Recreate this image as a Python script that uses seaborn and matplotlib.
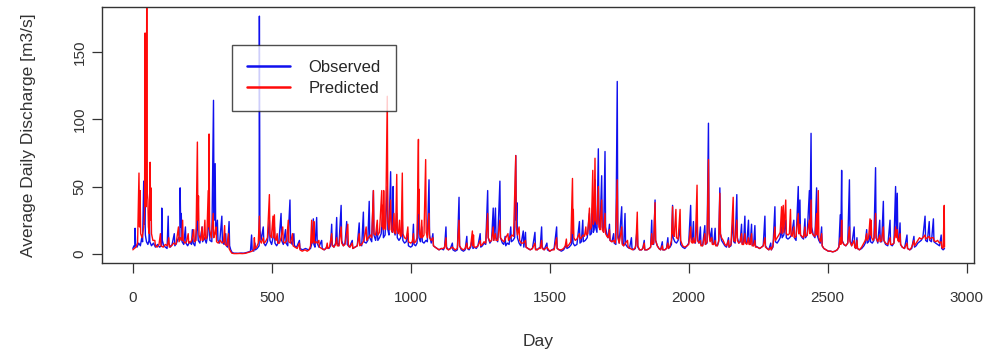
import matplotlib
matplotlib.use("Agg")
import matplotlib.pyplot as plt
import pandas as pd
import seaborn as sns

# ---- Observed daily discharge (day, m3/s) ----
obs_y1 = [(1,4),(5,6),(8,5),(9,19),(11,7),(16,5),(22,8),(28,6),(33,12),(36,9),(40,54),(42,22),(44,35),(46,14),(50,9),(55,7),(59,10),(60,30),(62,9),(68,6),(75,8),(82,5),(90,7),(97,5),(104,6),(105,34),(107,10),(112,6),(118,5),(124,4),(128,28),(130,8),(136,5),(142,7),(150,15),(152,6),(158,8),(165,12),(170,10),(171,49),(173,20),(175,30),(178,9),(184,7),(190,20),(192,8),(198,6),(205,9),(212,7),(215,18),(218,8),(224,6),(233,25),(236,10),(242,8),(250,20),(252,9),(258,12),(265,8),(270,14),(275,30),(278,10),(285,9),(291,114),(293,25),(297,67),(299,15),(305,25),(307,10),(313,8),(321,28),(323,9),(329,7),(335,15),(337,6),(342,5),(347,24),(349,6),(353,3),(358,1),(365,0.5)]
obs_y2 = [(372,0.5),(380,0.4),(390,0.6),(400,0.5),(410,1.0),(418,1.5),(424,2),(428,14),(430,3),(436,2),(440,8),(442,3),(448,4),(455,6),(456,176.5),(458,18),(462,10),(470,20),(472,8),(478,6),(485,9),(492,25),(494,10),(500,7),(505,12),(510,20),(512,8),(518,6),(526,9),(534,30),(536,10),(542,7),(550,18),(552,8),(558,6),(566,40),(568,10),(574,7),(580,15),(582,6),(590,5),(600,10),(602,4),(612,3),(622,4),(632,3),(640,4),(645,8),(650,26),(652,7),(656,5),(662,27),(664,8),(670,5),(680,10),(682,4),(690,3),(698,5),(706,4),(712,6),(716,22),(718,7),(724,5),(730,8)]
obs_y3 = [(734,27),(736,8),(742,6),(750,36),(752,10),(758,6),(764,8),(770,24),(772,7),(780,5),(790,10),(792,4),(800,5),(808,6),(815,23),(817,8),(824,6),(830,31),(832,9),(840,8),(846,10),(851,39),(853,12),(860,9),(866,47),(868,14),(874,10),(880,20),(882,10),(888,12),(894,15),(900,30),(902,12),(908,14),(916,50),(918,18),(922,14),(928,61),(930,25),(934,16),(937,50),(939,18),(944,14),(950,30),(952,12),(958,10),(964,12),(970,25),(972,10),(978,8),(984,9),(990,15),(992,6),(1000,5),(1006,6),(1010,22),(1012,7),(1018,6),(1023,8),(1028,40),(1030,12),(1035,9),(1040,20),(1042,9),(1048,8),(1055,10),(1060,9),(1066,55),(1068,14),(1074,8),(1080,15),(1082,6),(1088,5),(1095,4)]
obs_y4 = [(1102,3),(1110,4),(1118,3),(1122,5),(1127,20),(1129,5),(1136,3),(1143,4),(1150,8),(1152,3),(1160,2),(1168,3),(1174,42),(1176,6),(1182,3),(1190,2),(1196,3),(1202,13),(1204,4),(1210,3),(1216,5),(1222,12),(1224,4),(1230,5),(1236,4),(1242,6),(1250,15),(1252,5),(1258,6),(1264,8),(1270,7),(1277,47),(1279,12),(1285,8),(1291,10),(1297,34),(1299,10),(1305,34),(1307,12),(1313,9),(1321,54),(1323,12),(1330,8),(1335,7),(1340,13),(1342,6),(1348,8),(1354,7),(1360,20),(1362,9),(1368,10),(1374,12),(1378,73),(1380,25),(1382,38),(1384,12),(1390,8),(1396,6),(1405,17),(1407,5),(1413,16),(1415,5),(1422,4),(1430,3),(1438,4),(1447,16),(1449,4),(1455,3),(1460,4)]
obs_y5 = [(1466,5),(1471,20),(1473,5),(1480,3),(1490,8),(1492,3),(1500,2),(1508,3),(1516,4),(1525,20),(1527,4),(1534,3),(1542,2),(1550,3),(1556,5),(1560,8),(1562,4),(1570,5),(1578,7),(1582,25),(1584,8),(1590,6),(1598,7),(1607,24),(1609,8),(1614,9),(1619,25),(1621,9),(1628,10),(1635,12),(1643,30),(1645,14),(1650,15),(1655,40),(1657,16),(1660,18),(1663,55),(1665,20),(1670,16),(1675,78),(1677,25),(1681,18),(1687,58),(1689,20),(1694,16),(1699,76),(1701,20),(1706,14),(1710,12),(1715,22),(1717,10),(1724,9),(1730,15),(1732,8),(1738,7),(1743,128),(1745,15),(1750,8),(1759,35),(1761,8),(1766,6),(1771,30),(1773,7),(1780,5),(1787,4),(1794,12),(1796,4),(1802,3),(1808,4),(1815,20),(1817,5),(1823,3)]
obs_y6 = [(1830,3),(1835,4),(1840,10),(1842,3),(1850,3),(1858,4),(1863,5),(1867,25),(1869,8),(1874,7),(1879,40),(1881,10),(1887,6),(1893,4),(1899,3),(1905,9),(1907,3),(1914,3),(1920,4),(1925,12),(1927,4),(1933,5),(1938,7),(1942,36),(1944,12),(1950,9),(1956,8),(1962,10),(1969,20),(1971,7),(1978,5),(1986,4),(1994,6),(2000,8),(2007,36),(2009,12),(2013,10),(2017,24),(2019,9),(2024,8),(2030,30),(2032,10),(2037,8),(2042,20),(2044,7),(2050,6),(2058,21),(2060,7),(2066,8),(2071,97),(2073,20),(2077,10),(2083,19),(2085,8),(2090,7),(2095,19),(2097,7),(2103,6),(2108,9),(2112,49),(2114,15),(2118,10),(2124,8),(2130,6),(2136,5),(2143,12),(2145,5),(2152,6),(2160,25),(2162,9),(2167,8),(2173,44),(2175,12),(2180,8),(2185,9),(2190,22)]
obs_y7 = [(2192,8),(2197,7),(2202,28),(2204,9),(2209,8),(2215,25),(2217,8),(2221,7),(2226,22),(2228,7),(2233,6),(2238,21),(2240,6),(2247,5),(2255,4),(2262,5),(2268,6),(2274,28),(2276,6),(2282,4),(2288,3),(2295,8),(2297,3),(2303,5),(2310,35),(2312,9),(2318,8),(2324,10),(2329,12),(2334,20),(2336,12),(2342,14),(2349,25),(2351,12),(2357,11),(2363,12),(2370,14),(2378,25),(2380,12),(2386,10),(2394,50),(2396,15),(2400,40),(2402,14),(2408,12),(2413,11),(2418,26),(2420,12),(2426,14),(2434,47),(2436,18),(2440,89.5),(2442,20),(2448,14),(2454,12),(2460,49),(2462,14),(2468,10),(2473,8),(2478,20),(2480,6),(2486,4),(2494,3),(2502,2),(2510,2),(2518,1.5),(2526,2),(2534,3),(2540,5),(2545,29),(2547,8),(2550,62),(2552,10)]
obs_y8 = [(2558,7),(2565,6),(2572,8),(2578,55),(2580,10),(2586,6),(2595,20),(2597,5),(2601,4),(2605,12),(2607,4),(2614,3),(2622,4),(2630,6),(2635,8),(2640,18),(2642,8),(2647,9),(2652,15),(2654,9),(2660,8),(2666,10),(2672,64),(2674,12),(2680,8),(2687,25),(2689,9),(2694,9),(2700,39),(2702,10),(2708,7),(2716,6),(2724,25),(2726,7),(2732,6),(2738,8),(2744,50),(2746,14),(2750,45),(2752,12),(2756,9),(2760,23),(2762,7),(2768,5),(2776,4),(2785,14),(2787,4),(2795,3),(2802,4),(2810,13),(2812,5),(2818,6),(2824,8),(2830,9),(2836,10),(2842,12),(2850,28),(2852,10),(2858,9),(2865,24),(2867,10),(2873,9),(2880,26),(2882,9),(2888,8),(2895,7),(2902,6),(2908,14),(2910,4),(2915,3),(2920,4)]

# ---- Predicted daily discharge (day, m3/s) ----
pred_y1 = [(1,3),(6,4),(12,5),(18,8),(23,60),(25,20),(27,47),(29,15),(34,12),(40,20),(43,30),(45,164),(47,40),(49,35),(51,200),(53,45),(55,40),(57,20),(60,15),(63,68),(65,25),(66,49),(68,15),(73,10),(80,10),(82,6),(88,5),(95,7),(100,15),(102,6),(110,5),(118,7),(125,6),(130,12),(132,5),(140,6),(148,8),(156,7),(165,20),(167,9),(172,12),(177,10),(180,25),(182,10),(188,8),(194,9),(200,15),(202,8),(210,9),(215,12),(220,18),(222,9),(228,10),(233,83),(235,25),(237,43),(239,14),(245,10),(250,20),(252,10),(256,12),(260,25),(262,11),(267,12),(272,47),(274,20),(275,89),(277,18),(283,12),(290,30),(292,12),(296,15),(300,20),(302,9),(308,8),(315,10),(322,8),(327,9),(331,21),(333,7),(339,6),(345,15),(347,4),(352,2),(357,0.5),(365,0.2)]
pred_y2 = [(375,0.2),(385,0.3),(395,0.2),(405,0.4),(415,1.0),(423,1.5),(430,2),(436,3),(438,12),(440,4),(446,5),(452,8),(456,28),(458,10),(463,8),(470,12),(472,8),(478,9),(485,12),(492,44),(494,14),(499,12),(505,28),(507,12),(510,29),(512,12),(516,10),(520,15),(522,8),(528,8),(534,12),(540,20),(542,9),(548,8),(554,10),(560,25),(562,9),(568,8),(575,15),(577,6),(584,5),(592,4),(600,8),(602,3),(610,2),(620,3),(628,2),(635,3),(640,6),(644,25),(646,8),(650,10),(652,24),(654,8),(660,9),(665,8),(670,10),(672,5),(680,4),(688,3),(696,4),(700,8),(702,4),(708,5),(716,15),(718,6),(724,5),(730,7)]
pred_y3 = [(734,12),(736,6),(742,6),(750,20),(752,8),(758,6),(764,7),(774,22),(776,6),(782,5),(790,8),(792,4),(800,5),(808,6),(815,15),(817,6),(824,7),(832,10),(840,20),(842,10),(848,12),(855,14),(860,12),(866,47),(868,15),(874,14),(880,25),(882,14),(888,16),(896,47),(898,20),(900,36),(902,18),(903,47),(905,20),(910,18),(916,117),(918,25),(922,18),(928,40),(930,18),(935,16),(940,30),(942,16),(946,15),(950,59),(952,18),(956,15),(960,25),(962,14),(966,13),(970,60),(972,15),(978,12),(984,11),(990,20),(992,9),(1000,8),(1006,9),(1010,15),(1012,8),(1018,9),(1023,12),(1028,85),(1029,30),(1030,48),(1032,15),(1036,12),(1040,25),(1042,12),(1048,14),(1054,70),(1056,16),(1060,12),(1066,30),(1068,12),(1074,10),(1080,12),(1082,6),(1088,5),(1095,4)]
pred_y4 = [(1102,3),(1110,4),(1118,4),(1122,5),(1127,12),(1129,4),(1136,3),(1143,4),(1150,5),(1160,3),(1168,4),(1174,25),(1176,6),(1182,4),(1190,3),(1196,4),(1202,8),(1204,4),(1210,4),(1216,6),(1222,17),(1224,6),(1226,14),(1228,5),(1236,5),(1242,6),(1250,10),(1252,6),(1258,7),(1264,9),(1270,8),(1277,30),(1279,12),(1285,9),(1291,10),(1297,20),(1299,10),(1305,15),(1307,10),(1313,10),(1321,25),(1323,12),(1330,10),(1336,9),(1342,12),(1350,15),(1352,10),(1358,12),(1364,14),(1370,13),(1378,73),(1380,20),(1384,14),(1390,20),(1392,10),(1398,8),(1405,8),(1413,10),(1415,5),(1422,4),(1430,3),(1438,4),(1447,8),(1449,3),(1455,3),(1460,4)]
pred_y5 = [(1466,4),(1471,10),(1473,4),(1480,3),(1490,5),(1500,2),(1508,3),(1516,3),(1525,12),(1527,4),(1534,3),(1542,3),(1550,4),(1556,6),(1560,11),(1562,5),(1570,7),(1576,9),(1582,56),(1584,15),(1585,33),(1587,12),(1592,10),(1598,11),(1607,15),(1609,11),(1614,12),(1620,14),(1625,13),(1630,20),(1632,14),(1637,15),(1643,34),(1645,18),(1650,20),(1655,62),(1657,22),(1660,25),(1663,71),(1665,25),(1670,22),(1675,50),(1677,20),(1681,18),(1687,40),(1689,18),(1694,16),(1699,30),(1701,15),(1706,13),(1710,12),(1715,18),(1717,10),(1724,9),(1730,10),(1736,8),(1743,55),(1745,12),(1750,8),(1759,20),(1761,7),(1766,6),(1772,8),(1780,10),(1782,5),(1790,4),(1798,3),(1806,4),(1810,6),(1815,31),(1817,6),(1823,3)]
pred_y6 = [(1830,3),(1835,4),(1840,8),(1842,3),(1850,3),(1858,4),(1863,5),(1867,15),(1869,7),(1874,8),(1879,38),(1881,10),(1887,6),(1893,4),(1899,3),(1905,6),(1907,3),(1914,3),(1920,4),(1925,8),(1927,4),(1933,6),(1938,10),(1942,35),(1944,15),(1948,13),(1954,33),(1956,12),(1962,11),(1969,33),(1971,10),(1978,6),(1986,5),(1994,6),(2000,7),(2007,20),(2009,9),(2013,8),(2017,12),(2019,8),(2024,9),(2030,51),(2032,10),(2037,8),(2042,10),(2044,6),(2050,6),(2058,15),(2060,7),(2066,9),(2071,70),(2073,15),(2077,9),(2083,12),(2085,7),(2090,7),(2095,10),(2097,6),(2103,6),(2108,10),(2112,45),(2114,15),(2118,12),(2124,10),(2130,7),(2136,6),(2143,10),(2145,5),(2152,7),(2160,42),(2162,10),(2167,9),(2173,25),(2175,10),(2180,8),(2185,9),(2190,15)]
pred_y7 = [(2192,7),(2197,7),(2202,15),(2204,8),(2209,7),(2215,12),(2217,7),(2221,7),(2226,15),(2228,6),(2233,6),(2238,10),(2240,5),(2247,5),(2255,4),(2262,5),(2268,6),(2274,12),(2276,5),(2282,4),(2288,3),(2295,5),(2297,3),(2303,6),(2310,20),(2312,10),(2318,12),(2324,14),(2329,16),(2334,35),(2336,15),(2340,36),(2342,16),(2349,40),(2351,15),(2357,14),(2362,15),(2366,33),(2368,14),(2372,13),(2378,20),(2380,12),(2386,13),(2394,30),(2396,15),(2400,22),(2402,14),(2408,13),(2413,12),(2418,20),(2420,13),(2426,14),(2434,25),(2436,15),(2440,40),(2442,16),(2448,14),(2454,13),(2460,30),(2462,14),(2466,47),(2468,12),(2473,9),(2478,15),(2480,6),(2486,4),(2494,3),(2502,2),(2510,2),(2518,1.5),(2526,2),(2534,3),(2540,5),(2545,12),(2547,7),(2550,25),(2552,9)]
pred_y8 = [(2558,7),(2565,6),(2572,8),(2578,20),(2580,9),(2586,6),(2595,10),(2597,5),(2601,4),(2605,10),(2607,4),(2614,3),(2622,5),(2630,8),(2635,10),(2640,15),(2642,10),(2647,12),(2652,26),(2654,14),(2656,25),(2658,12),(2663,10),(2667,12),(2672,30),(2674,12),(2680,9),(2687,14),(2689,9),(2694,10),(2700,20),(2702,10),(2708,8),(2716,7),(2724,12),(2726,7),(2732,7),(2738,8),(2744,20),(2746,12),(2750,18),(2752,10),(2756,9),(2760,15),(2762,7),(2768,5),(2776,4),(2785,8),(2787,4),(2795,3),(2802,5),(2810,10),(2812,6),(2818,8),(2824,10),(2830,12),(2836,11),(2842,12),(2850,14),(2852,11),(2858,12),(2865,13),(2867,11),(2873,12),(2880,12),(2882,10),(2888,9),(2895,10),(2902,8),(2908,9),(2910,5),(2915,4),(2919,36),(2920,5)]

x_ticks = [0, 500, 1000, 1500, 2000, 2500, 3000]
y_ticks = [0, 50, 100, 150]
series_labels = ["Observed", "Predicted"]

obs = pd.DataFrame(obs_y1 + obs_y2 + obs_y3 + obs_y4 + obs_y5 + obs_y6 + obs_y7 + obs_y8,
                   columns=["Day", "Discharge"])
pred = pd.DataFrame(pred_y1 + pred_y2 + pred_y3 + pred_y4 + pred_y5 + pred_y6 + pred_y7 + pred_y8,
                    columns=["Day", "Discharge"])

sns.set_style("ticks")
plt.rcParams["font.family"] = ["Liberation Sans", "DejaVu Sans"]

fig = plt.figure(figsize=(9.89, 3.57), dpi=100)
ax = fig.add_axes([102 / 989, 1 - 263.3 / 357, 872 / 989, (263.3 - 6.7) / 357])

sns.lineplot(data=obs, x="Day", y="Discharge", ax=ax, color="#1010ee", linewidth=1.0,
             estimator=None, sort=False, label=series_labels[0])
sns.lineplot(data=pred, x="Day", y="Discharge", ax=ax, color="#ff0a0a", linewidth=1.0,
             estimator=None, sort=False, label=series_labels[1])

ax.set_xlim(-110, 3026)
ax.set_ylim(-7, 183.5)
ax.set_xticks(x_ticks)
ax.set_yticks(y_ticks)
txt = "#333333"
for s in ax.spines.values():
    s.set_visible(True)
    s.set_color(txt)
    s.set_linewidth(1.0)
ax.tick_params(axis="both", direction="out", length=7, width=0.9, colors=txt, labelsize=11)
ax.tick_params(axis="x", pad=13)
ax.tick_params(axis="y", pad=4)
for lab in ax.get_yticklabels():
    lab.set_rotation(90)
    lab.set_va("center")

ax.set_xlabel("Day", fontsize=12.5, color=txt)
ax.set_ylabel("Average Daily Discharge [m3/s]", fontsize=12.5, color=txt)
ax.xaxis.set_label_coords(0.5, -0.275)
ax.yaxis.set_label_coords(-0.076, 0.5)

leg = ax.legend(loc="upper left", bbox_to_anchor=(0.149, 0.851), frameon=True, fancybox=False,
                edgecolor="#222222", fontsize=12, borderpad=0.9, handlelength=2.6,
                handletextpad=1.1, labelspacing=0.35, borderaxespad=0)
leg.get_frame().set_linewidth(1.0)
for h in leg.get_lines():
    h.set_linewidth(1.8)

fig.savefig("out.png", dpi=100)
